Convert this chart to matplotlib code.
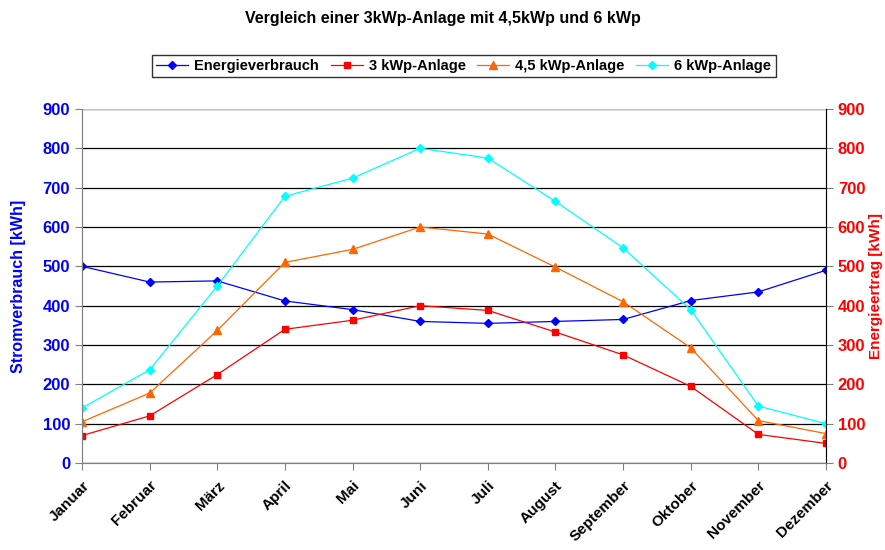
import matplotlib
matplotlib.use("Agg")
import matplotlib.pyplot as plt

# monthly values
months = ["Januar", "Februar", "März", "April", "Mai", "Juni", "Juli",
          "August", "September", "Oktober", "November", "Dezember"]
verbrauch = [500, 460, 463, 412, 390, 360, 355, 360, 365, 413, 435, 490]
anlage_3 = [70, 120, 225, 340, 363, 400, 388, 333, 275, 195, 73, 50]
anlage_45 = [105, 178, 337, 510, 543, 600, 582, 498, 410, 293, 108, 75]
anlage_6 = [140, 237, 450, 678, 724, 800, 775, 665, 547, 390, 145, 100]
y_ticks = list(range(0, 1000, 100))

plt.rcParams["font.family"] = ["Liberation Sans", "DejaVu Sans"]

fig = plt.figure(figsize=(8.85, 5.5), dpi=100)
ax = fig.add_axes([0.0927, 0.158, 0.8406, 0.644])
ax2 = ax.twinx()

x = list(range(len(months)))
ax.plot(x, verbrauch, color="#0000ff", marker="D", markersize=4, lw=0.9, label="Energieverbrauch", zorder=5)
ax2.plot(x, anlage_3, color="#ff0000", marker="s", markersize=5, lw=0.9, label="3 kWp-Anlage")
ax2.plot(x, anlage_45, color="#ff6600", marker="^", markersize=5.5, lw=0.9, label="4,5 kWp-Anlage")
ax2.plot(x, anlage_6, color="#00ffff", marker="D", markersize=4, lw=0.9, label="6 kWp-Anlage")

for a in (ax, ax2):
    a.set_ylim(0, 900)
    a.set_xlim(0, len(months) - 1)
    a.set_yticks(y_ticks)
    for s in a.spines.values():
        s.set_color("#808080")
    a.spines["top"].set_visible(False)

ax.yaxis.grid(True, color="black", lw=0.9)
ax.set_axisbelow(True)
ax.axhline(900, color="#c0c0c0", lw=1.5)
ax2.spines["right"].set_color("black")

ax.set_xticks(x)
ax.set_xticklabels(months, rotation=45, ha="right", rotation_mode="anchor",
                   fontsize=11, fontweight="bold")
ax.tick_params(axis="x", length=5, color="#808080", pad=6)
ax.tick_params(axis="y", length=5, color="#808080", labelcolor="#0000ff", labelsize=12)
ax2.tick_params(axis="y", length=5, color="#808080", labelcolor="#ff0000", labelsize=12)
for lbl in ax.get_yticklabels() + ax2.get_yticklabels():
    lbl.set_fontweight("bold")

ax.set_ylabel("Stromverbrauch [kWh]", color="#0000ff", fontsize=11.5, fontweight="bold", labelpad=12)
ax2.set_ylabel("Energieertrag [kWh]", color="#ff0000", fontsize=11, fontweight="bold", labelpad=3)

fig.suptitle("Vergleich einer 3kWp-Anlage mit 4,5kWp und 6 kWp", y=0.98,
             fontsize=11.5, fontweight="bold")

h1, l1 = ax.get_legend_handles_labels()
h2, l2 = ax2.get_legend_handles_labels()
leg = fig.legend(h1 + h2, l1 + l2, loc="center", bbox_to_anchor=(0.524, 0.88), ncol=4,
                 frameon=True, fancybox=False, edgecolor="black", handlelength=2.2,
                 columnspacing=0.8, handletextpad=0.4, borderpad=0.3,
                 prop={"weight": "bold", "size": 10.5})
leg.get_frame().set_linewidth(1.0)

fig.savefig("out.png", dpi=100)
